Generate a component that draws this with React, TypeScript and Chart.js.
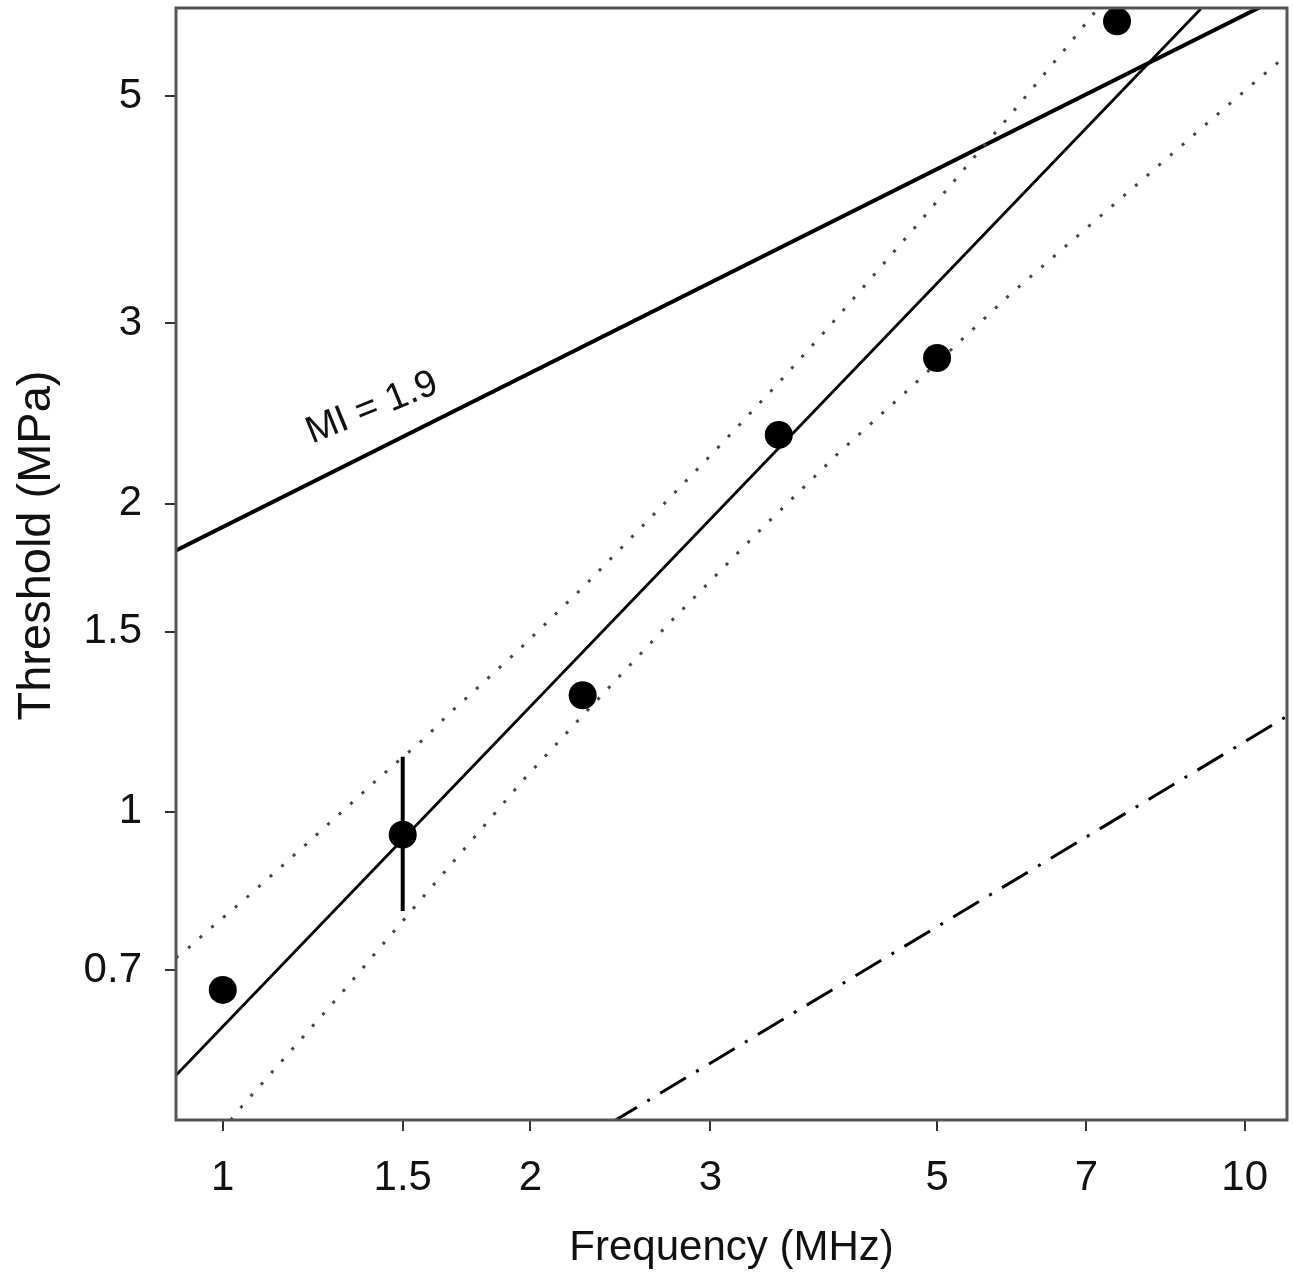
import React, { useEffect, useRef } from "react";
import { Chart, registerables } from "chart.js";

Chart.register(...registerables);

// Measured data points (Frequency MHz, Threshold MPa)
const FREQ = [1, 1.5, 2.25, 3.5, 5, 7.5];
const THRESHOLD = [0.67, 0.95, 1.3, 2.335, 2.776, 5.92];

// Error bar at 1.5 MHz
const ERR_X = [1.5, 1.5];
const ERR_Y = [0.8, 1.132];

// Regression fit line
const FIT_X = [0.9, 9.06];
const FIT_Y = [0.553, 6.09];

// Upper confidence band (dotted)
const UPPER_X = [0.9, 0.925, 0.972, 1.05, 1.164, 1.286, 1.426, 1.58, 1.661, 1.942, 2.257, 2.619, 3.032, 3.497, 3.921, 4.281, 4.78, 5.324, 5.935, 6.745, 7.161, 7.41];
const UPPER_Y = [0.72, 0.736, 0.769, 0.821, 0.9, 0.985, 1.082, 1.183, 1.244, 1.435, 1.661, 1.936, 2.253, 2.623, 2.979, 3.297, 3.744, 4.255, 4.832, 5.636, 6.072, 6.34];

// Lower confidence band (dotted)
const LOWER_X = [1.018, 1.043, 1.306, 1.455, 1.661, 1.976, 2.223, 2.75, 3.36, 4.009, 4.685, 5.891, 7.603, 9.31, 10.07, 10.9, 11];
const LOWER_Y = [0.5, 0.515, 0.6645, 0.755, 0.8815, 1.079, 1.226, 1.538, 1.887, 2.244, 2.584, 3.201, 3.992, 4.76, 5.093, 5.447, 5.49];

// MI = 1.9 line
const MI_X = [0.9, 11];
const MI_Y = [1.8, 6.3];

// Dash-dot line
const DASHDOT_X = [2.4, 11];
const DASHDOT_Y = [0.497, 1.24];

// Axes
const X_TICKS = [1, 1.5, 2, 3, 5, 7, 10];
const Y_TICKS = [0.7, 1, 1.5, 2, 3, 5];
const X_RANGE = [0.9, 11];
const Y_RANGE = [0.5, 6.1];
const X_TITLE = "Frequency (MHz)";
const Y_TITLE = "Threshold (MPa)";

// Annotation
const MI_LABEL = "MI = 1.9";
const MI_LABEL_AT = [1.4, 2.48];

const FONT = '"Liberation Sans", Arial, sans-serif';

const zip = (xs: number[], ys: number[]) => xs.map((x, i) => ({ x, y: ys[i] }));

const clearPadding = (a: any) => {
  a.paddingTop = 0;
  a.paddingBottom = 0;
  a.paddingLeft = 0;
  a.paddingRight = 0;
};

const decorPlugin = {
  id: "decor",
  afterDatasetsDraw(chart: any) {
    const { ctx, chartArea, scales } = chart;
    const { left, top, right, bottom } = chartArea;
    // MI label
    ctx.save();
    const px = scales.x.getPixelForValue(MI_LABEL_AT[0]);
    const py = scales.y.getPixelForValue(MI_LABEL_AT[1]);
    ctx.translate(px, py);
    ctx.rotate((-22 * Math.PI) / 180);
    ctx.font = `38px ${FONT}`;
    ctx.fillStyle = "#111";
    ctx.textAlign = "center";
    ctx.textBaseline = "middle";
    ctx.fillText(MI_LABEL, 0, 0);
    ctx.restore();
    // frame
    ctx.save();
    ctx.strokeStyle = "#555";
    ctx.lineWidth = 3;
    ctx.strokeRect(left, top, right - left, bottom - top);
    ctx.restore();
  },
  afterDraw(chart: any) {
    const { ctx, chartArea } = chart;
    ctx.save();
    const cy = (chartArea.top + chartArea.bottom) / 2 - 18.5;
    ctx.translate(50, cy);
    ctx.rotate(-Math.PI / 2);
    ctx.font = `47px ${FONT}`;
    ctx.fillStyle = "#111";
    ctx.textAlign = "center";
    ctx.textBaseline = "alphabetic";
    ctx.fillText(Y_TITLE, 0, 0);
    ctx.restore();
  },
};

export default function App() {
  const canvasRef = useRef<HTMLCanvasElement | null>(null);

  useEffect(() => {
    if (!canvasRef.current) return;
    const lineBase = {
      type: "line" as const,
      pointRadius: 0,
      borderColor: "#000",
      backgroundColor: "#000",
      fill: false,
      tension: 0,
    };
    const chart = new Chart(canvasRef.current, {
      type: "line",
      data: {
        datasets: [
          { ...lineBase, label: "points", data: zip(FREQ, THRESHOLD), showLine: false, pointRadius: 14, pointBorderWidth: 0, pointBackgroundColor: "#000" },
          { ...lineBase, label: "error", data: zip(ERR_X, ERR_Y), borderWidth: 4 },
          { ...lineBase, label: "fit", data: zip(FIT_X, FIT_Y), borderWidth: 2.8 },
          { ...lineBase, label: "upper", data: zip(UPPER_X, UPPER_Y), borderWidth: 3, borderColor: "#444", borderDash: [3, 12.5] },
          { ...lineBase, label: "lower", data: zip(LOWER_X, LOWER_Y), borderWidth: 3, borderColor: "#444", borderDash: [3, 12.5] },
          { ...lineBase, label: "MI", data: zip(MI_X, MI_Y), borderWidth: 4 },
          { ...lineBase, label: "dashdot", data: zip(DASHDOT_X, DASHDOT_Y), borderWidth: 3, borderDash: [30, 12, 3, 12] },
        ],
      },
      options: {
        animation: false,
        responsive: false,
        devicePixelRatio: 1,
        layout: { autoPadding: false, padding: { top: 8, right: 6, left: 0, bottom: 0 } },
        plugins: {
          legend: { display: false },
          tooltip: { enabled: false },
        },
        scales: {
          x: {
            type: "logarithmic",
            min: X_RANGE[0],
            max: X_RANGE[1],
            afterBuildTicks: (a: any) => {
              a.ticks = X_TICKS.map((v) => ({ value: v }));
            },
            afterFit: (a: any) => {
              a.height = 159;
              clearPadding(a);
            },
            grid: { drawOnChartArea: false, drawTicks: true, tickLength: 11, color: "#333", lineWidth: 2 },
            border: { display: false },
            ticks: {
              autoSkip: false,
              maxRotation: 0,
              minRotation: 0,
              padding: 22,
              color: "#111",
              font: { size: 42, family: FONT },
              callback: (v: any) => String(v),
            },
            title: {
              display: true,
              text: X_TITLE,
              color: "#111",
              font: { size: 42, family: FONT },
              padding: { top: 0, bottom: 5 },
            },
          },
          y: {
            type: "logarithmic",
            min: Y_RANGE[0],
            max: Y_RANGE[1],
            afterBuildTicks: (a: any) => {
              a.ticks = Y_TICKS.map((v) => ({ value: v }));
            },
            afterFit: (a: any) => {
              a.width = 176;
              clearPadding(a);
            },
            grid: { drawOnChartArea: false, drawTicks: true, tickLength: 11, color: "#333", lineWidth: 2 },
            border: { display: false },
            ticks: {
              autoSkip: false,
              padding: 23,
              color: "#111",
              font: { size: 42, family: FONT },
              callback: (v: any) => String(v),
            },
            title: { display: false },
          },
        },
      },
      plugins: [decorPlugin],
    } as any);
    return () => chart.destroy();
  }, []);

  return (
    <div style={{ position: "absolute", left: 0, top: 0, width: 1293, height: 1279, background: "#fff" }}>
      <canvas ref={canvasRef} width={1293} height={1279} style={{ display: "block" }} />
    </div>
  );
}
